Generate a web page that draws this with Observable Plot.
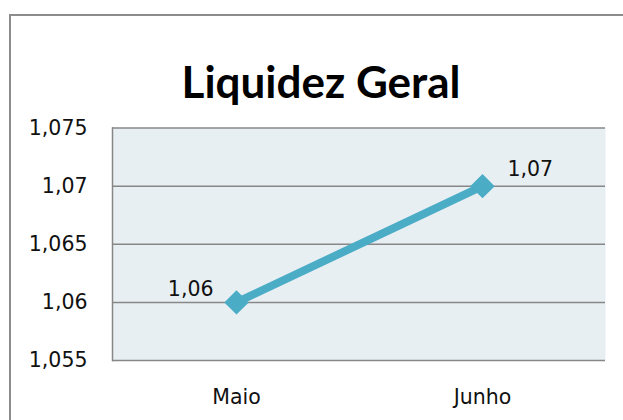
<!DOCTYPE html>
<html>
<head>
<meta charset="utf-8">
<script src="https://cdn.jsdelivr.net/npm/d3@7"></script>
<script src="https://cdn.jsdelivr.net/npm/@observablehq/plot@0.6"></script>
<style>
  html, body { margin: 0; padding: 0; background: #fff; }
  #wrap { position: relative; width: 623px; height: 420px; overflow: hidden; }
  #border { position: absolute; left: 9px; top: 14px; width: 700px; height: 500px;
            border-left: 2px solid #8c8c8c; border-top: 2px solid #8c8c8c; }
  #chart { position: absolute; left: 0; top: 0; }
</style>
</head>
<body>
<div id="wrap"><div id="border"></div><div id="chart"></div></div>
<script>
const title = "Liquidez Geral";
const months = ["Maio", "Junho"];
const values = [1.06, 1.07];
const valueLabels = ["1,06", "1,07"];
const yTicks = [1.055, 1.06, 1.065, 1.07, 1.075];
const yDomain = [1.055, 1.075];

const data = months.map((m, i) => ({month: m, value: values[i], label: valueLabels[i]}));
const fmt = t => String(t).replace(".", ",");
const color = "#4bacc6";
const gridColor = "#878787";
const fs = 20.5;

const chart = Plot.plot({
  width: 623,
  height: 420,
  marginLeft: 112,
  marginRight: 18,
  marginTop: 127.5,
  marginBottom: 60,
  style: {fontFamily: "DejaVu Sans", fontSize: fs + "px", background: "transparent", color: "#111", overflow: "visible"},
  x: {type: "point", domain: months, padding: 0.5, label: null},
  y: {domain: yDomain, label: null},
  marks: [
    Plot.frame({fill: "#e8eff3", stroke: null}),
    Plot.gridY(yTicks, {stroke: gridColor, strokeOpacity: 1, strokeWidth: 1.5}),
    Plot.frame({anchor: "left", stroke: gridColor, strokeWidth: 1.5}),
    Plot.axisY(yTicks, {tickSize: 0, tickPadding: 25, tickFormat: fmt, fontSize: fs, fill: "#111", label: null}),
    Plot.axisX({tickSize: 0, tickPadding: 29, fontSize: fs, fill: "#111", label: null}),
    Plot.line(data, {x: "month", y: "value", stroke: color, strokeWidth: 8}),
    Plot.dot(data, {x: "month", y: "value", symbol: "diamond2", r: 11, fill: color, stroke: null}),
    Plot.text(data.filter((d, i) => i === 0), {x: "month", y: "value", text: "label", textAnchor: "end", dx: -23, dy: -12.5, fontSize: fs, fill: "#111"}),
    Plot.text(data.filter((d, i) => i === 1), {x: "month", y: "value", text: "label", textAnchor: "start", dx: 25, dy: -16.5, fontSize: fs, fill: "#111"}),
    Plot.text([title], {frameAnchor: "top", text: d => d, dx: -38, dy: -61.5, fontFamily: "Lato", fontWeight: "bold", fontSize: 44, fill: "#000"})
  ]
});
document.getElementById("chart").appendChild(chart);
</script>
</body>
</html>
